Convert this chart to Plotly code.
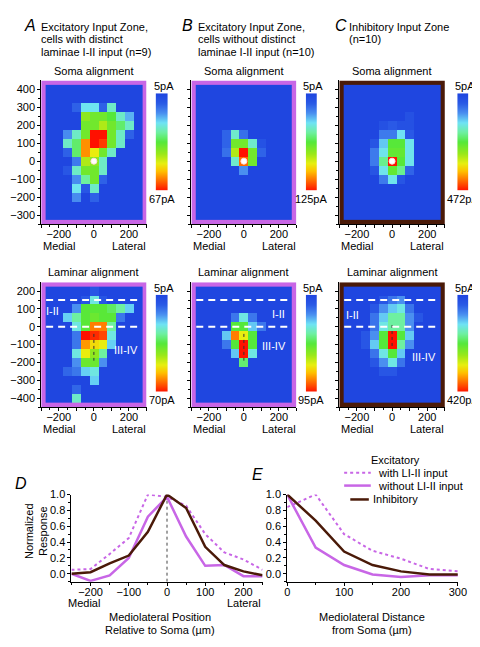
import plotly.graph_objects as go

W, H = 480, 647
FONT = "Liberation Sans, Arial, sans-serif"
VIOLET = "#c866e6"
BROWN = "#4a1a08"

# ---------------- data ----------------
hm_x = [-250, -200, -150, -100, -50, 0, 50, 100, 150, 200, 250]
soma_y = [400, 350, 300, 250, 200, 150, 100, 50, 0, -50, -100, -150, -200, -250, -300]
lam_y = [200, 150, 100, 50, 0, -50, -100, -150, -200, -250, -300, -350, -400]

somaA = [
    [5, 5, 5, 5, 5, 5, 5, 5, 5, 5, 5],
    [5, 5, 5, 5, 5, 5, 5, 5, 5, 5, 5],
    [5, 5, 5, 12, 24, 24, 12, 27, 5, 5, 5],
    [5, 5, 5, 5, 42, 39, 39, 36, 27, 20, 5],
    [5, 5, 5, 5, 39, 39, 45, 39, 33, 27, 5],
    [5, 5, 17, 27, 39, 67, 67, 39, 27, 12, 5],
    [5, 5, 27, 33, 58, 67, 64, 39, 27, 5, 5],
    [5, 5, 12, 33, 58, 50, 39, 27, 5, 5, 5],
    [5, 5, 5, 15, 45, 42, 27, 5, 5, 5, 5],
    [5, 5, 10, 27, 39, 39, 27, 5, 5, 5, 5],
    [5, 5, 5, 17, 30, 39, 12, 5, 5, 5, 5],
    [5, 5, 5, 24, 10, 27, 5, 5, 5, 5, 5],
    [5, 5, 5, 17, 5, 12, 5, 5, 5, 5, 5],
    [5, 5, 5, 5, 5, 5, 5, 5, 5, 5, 5],
    [5, 5, 5, 5, 5, 5, 5, 5, 5, 5, 5],
]
somaB = [
    [5, 5, 5, 5, 5, 5, 5, 5, 5, 5, 5],
    [5, 5, 5, 5, 5, 5, 5, 5, 5, 5, 5],
    [5, 5, 5, 5, 5, 5, 5, 5, 5, 5, 5],
    [5, 5, 5, 5, 5, 5, 5, 5, 5, 5, 5],
    [5, 5, 5, 5, 5, 5, 5, 5, 5, 5, 5],
    [5, 5, 5, 19, 47, 22, 5, 5, 5, 5, 5],
    [5, 5, 5, 19, 71, 71, 47, 12, 5, 5, 5],
    [5, 5, 5, 22, 83, 125, 71, 19, 5, 5, 5],
    [5, 5, 5, 5, 47, 113, 71, 5, 5, 5, 5],
    [5, 5, 5, 5, 5, 29, 5, 5, 5, 5, 5],
    [5, 5, 5, 5, 5, 5, 5, 5, 5, 5, 5],
    [5, 5, 5, 5, 5, 5, 5, 5, 5, 5, 5],
    [5, 5, 5, 5, 5, 5, 5, 5, 5, 5, 5],
    [5, 5, 5, 5, 5, 5, 5, 5, 5, 5, 5],
    [5, 5, 5, 5, 5, 5, 5, 5, 5, 5, 5],
]
somaC = [
    [5, 5, 5, 5, 5, 5, 5, 5, 5, 5, 5],
    [5, 5, 5, 5, 5, 5, 5, 5, 5, 5, 5],
    [5, 5, 5, 5, 5, 5, 5, 5, 5, 5, 5],
    [5, 5, 5, 5, 5, 5, 5, 30, 5, 5, 5],
    [5, 5, 5, 5, 30, 50, 30, 30, 5, 5, 5],
    [5, 5, 5, 5, 80, 80, 145, 50, 5, 5, 5],
    [5, 5, 5, 40, 130, 240, 240, 150, 5, 5, 5],
    [5, 5, 5, 80, 150, 250, 250, 150, 5, 5, 5],
    [5, 5, 5, 80, 200, 472, 240, 150, 5, 5, 5],
    [5, 5, 5, 40, 150, 250, 200, 60, 5, 5, 5],
    [5, 5, 5, 5, 80, 150, 40, 5, 5, 5, 5],
    [5, 5, 5, 5, 5, 5, 5, 5, 5, 5, 5],
    [5, 5, 5, 5, 5, 5, 5, 5, 5, 5, 5],
    [5, 5, 5, 5, 5, 5, 5, 5, 5, 5, 5],
    [5, 5, 5, 5, 5, 5, 5, 5, 5, 5, 5],
]
lamA = [
    [5, 5, 5, 5, 5, 10, 5, 5, 5, 5, 5],
    [5, 5, 5, 5, 10, 26, 10, 5, 5, 5, 5],
    [5, 5, 5, 18, 38, 38, 38, 35, 31, 23, 5],
    [5, 5, 23, 31, 38, 40, 38, 38, 15, 5, 5],
    [5, 5, 5, 26, 38, 62, 62, 31, 5, 5, 5],
    [5, 5, 5, 15, 70, 68, 66, 26, 5, 5, 5],
    [5, 5, 5, 15, 60, 54, 52, 23, 5, 5, 5],
    [5, 5, 5, 26, 52, 44, 31, 5, 5, 5, 5],
    [5, 5, 5, 18, 40, 40, 18, 5, 5, 5, 5],
    [5, 5, 13, 15, 23, 26, 5, 5, 5, 5, 5],
    [5, 5, 5, 5, 5, 23, 5, 5, 5, 5, 5],
    [5, 5, 5, 13, 5, 5, 5, 5, 5, 5, 5],
    [5, 5, 5, 28, 5, 5, 5, 5, 5, 5, 5],
]
lamB = [
    [5, 5, 5, 5, 5, 5, 5, 5, 5, 5, 5],
    [5, 5, 5, 5, 5, 5, 5, 5, 5, 5, 5],
    [5, 5, 5, 5, 5, 5, 5, 5, 5, 5, 5],
    [5, 5, 5, 5, 19, 34, 19, 5, 5, 5, 5],
    [5, 5, 5, 5, 50, 50, 29, 19, 5, 5, 5],
    [5, 5, 5, 29, 84, 70, 50, 5, 5, 5, 5],
    [5, 5, 5, 19, 50, 95, 50, 5, 5, 5, 5],
    [5, 5, 5, 5, 29, 95, 34, 5, 5, 5, 5],
    [5, 5, 5, 5, 5, 45, 5, 5, 5, 5, 5],
    [5, 5, 5, 5, 5, 5, 5, 5, 5, 5, 5],
    [5, 5, 5, 5, 5, 5, 5, 5, 5, 5, 5],
    [5, 5, 5, 5, 5, 5, 5, 5, 5, 5, 5],
    [5, 5, 5, 5, 5, 5, 5, 5, 5, 5, 5],
]
lamC = [
    [5, 5, 5, 5, 5, 5, 5, 5, 5, 5, 5],
    [5, 5, 5, 5, 38, 67, 88, 5, 5, 5, 5],
    [5, 5, 5, 38, 88, 117, 138, 67, 5, 5, 5],
    [5, 5, 5, 67, 117, 171, 171, 88, 38, 5, 5],
    [5, 5, 5, 67, 138, 171, 171, 88, 5, 5, 5],
    [5, 5, 38, 88, 212, 420, 212, 117, 5, 5, 5],
    [5, 5, 38, 117, 212, 420, 171, 88, 5, 5, 5],
    [5, 5, 5, 67, 138, 212, 117, 5, 5, 5, 5],
    [5, 5, 5, 38, 88, 138, 67, 5, 5, 5, 5],
    [5, 5, 5, 5, 38, 38, 5, 5, 5, 5, 5],
    [5, 5, 5, 5, 5, 5, 5, 5, 5, 5, 5],
    [5, 5, 5, 5, 5, 5, 5, 5, 5, 5, 5],
    [5, 5, 5, 5, 5, 5, 5, 5, 5, 5, 5],
]
cbar_min = 5
cbar_max = [67, 125, 472, 70, 95, 420]

soma_pos_x = [0]
soma_pos_y = [0]
lam_soma_x = [[0, 0], [0, 0], [0, 0]]
lam_soma_y = [[-40, -190], [-40, -190], [10, -110]]
lamina_bounds = [150, 0]

pos_D = [-250, -200, -150, -100, -50, 0, 50, 100, 150, 200, 250]
D_with = [0.05, 0.06, 0.25, 0.45, 1.0, 0.97, 0.86, 0.50, 0.27, 0.18, 0.05]
D_without = [0.0, -0.09, -0.02, 0.20, 0.72, 0.97, 0.47, 0.10, 0.11, -0.03, -0.03]
D_inhib = [0.0, 0.02, 0.13, 0.23, 0.53, 1.0, 0.83, 0.34, 0.11, 0.03, -0.02]

pos_E = [0, 50, 100, 150, 200, 250, 300]
E_with = [0.84, 1.0, 0.50, 0.29, 0.19, 0.06, 0.03]
E_without = [1.0, 0.33, 0.11, -0.01, -0.04, -0.02, -0.02]
E_inhib = [1.0, 0.67, 0.28, 0.11, 0.03, -0.01, -0.01]

# ---------------- styling ----------------
CSCALE = [
    [0.00, "#1f46e0"], [0.10, "#2a5ae6"], [0.20, "#4a8ff0"], [0.30, "#6fe3f5"],
    [0.40, "#6ef0a0"], [0.50, "#55e83a"], [0.62, "#9ae81a"], [0.72, "#e8ef10"],
    [0.80, "#ffc000"], [0.88, "#ff7a00"], [1.00, "#ff1000"],
]


def dx(a, b):
    return [a / W, b / W]


def dy(top, bottom):
    return [1 - bottom / H, 1 - top / H]


def py(v):
    return 1 - v / H


fig = go.Figure()
layout = dict(
    width=W, height=H, margin=dict(l=0, r=0, t=0, b=0),
    paper_bgcolor="white", plot_bgcolor="rgba(0,0,0,0)",
    font=dict(family=FONT, size=11, color="black"),
    showlegend=False,
)
annotations = []
shapes = []


def txt(t, x, y, xanchor="center", **kw):
    d = dict(text=t, xref="paper", yref="paper", x=x / W, y=py(y), showarrow=False,
             xanchor=xanchor, yanchor="middle")
    d.update(kw)
    annotations.append(d)


panel_x = [(31, 139), (185, 292.7), (336.7, 445)]
cbar_x = [(148.3, 161), (302.3, 314), (457.7, 469.3)]
row_y = [(67, 212), (270.7, 396.7)]
cbar_y = [(80, 178.3), (283.3, 381.3)]
medial_y = [234, 419.3]
grids = [somaA, somaB, somaC, lamA, lamB, lamC]
frame_cols = [VIOLET, VIOLET, BROWN]

ax = 0
for r in range(2):
    for c in range(3):
        i = r * 3 + c
        ax += 1
        xn = f"x{ax}"
        yn = f"y{ax}"
        yvals = soma_y if r == 0 else lam_y
        yr = [-350, 450] if r == 0 else [-450, 250]
        fig.add_trace(go.Heatmap(
            x=hm_x, y=yvals, z=grids[i], colorscale=CSCALE,
            zmin=cbar_min, zmax=cbar_max[i], showscale=False,
            xaxis=xn, yaxis=yn, hoverinfo="skip"))
        tickv = [-300, -200, -100, 0, 100, 200, 300]
        tickt = ["", "\u2212200", "", "0", "", "200", ""]
        layout[f"xaxis{ax}"] = dict(
            domain=dx(*panel_x[c]), range=[-300, 300], anchor=yn,
            tickvals=tickv, ticktext=tickt, ticks="outside", ticklen=3,
            tickcolor="black", showline=True, linecolor="black", linewidth=1,
            showgrid=False, zeroline=False, fixedrange=True, ticklabelstandoff=-3,
            minor=dict(tickvals=[-250, -150, -50, 50, 150, 250], ticks="outside", ticklen=2, tickcolor="black"),
            tickfont=dict(size=11))
        ytv = list(range(-300, 401, 100)) if r == 0 else list(range(-400, 201, 100))
        ytt = [("\u2212" + str(-v)) if v < 0 else str(v) for v in ytv]
        layout[f"yaxis{ax}"] = dict(
            domain=dy(*row_y[r]), range=yr, anchor=xn,
            tickvals=ytv, ticktext=ytt, showticklabels=(c == 0),
            ticks="outside", ticklen=3, tickcolor="black",
            showline=True, linecolor="black", linewidth=1,
            showgrid=False, zeroline=False, fixedrange=True,
            minor=dict(tickvals=[v + 50 for v in ytv[:-1]] + [ytv[0] - 50], ticks="outside", ticklen=2, tickcolor="black"),
            tickfont=dict(size=11))
        annotations.append(dict(text="Medial", xref=xn, yref="paper", x=-200, y=py(medial_y[r]),
                                showarrow=False, xanchor="center", yanchor="middle"))
        annotations.append(dict(text="Lateral", xref=xn, yref="paper", x=200, y=py(medial_y[r]),
                                showarrow=False, xanchor="center", yanchor="middle"))
        shapes.append(dict(type="rect", xref=xn, yref=yn, x0=-300, x1=300,
                           y0=yr[0], y1=yr[1], fillcolor=frame_cols[c],
                           line=dict(width=0), layer="below"))
        if r == 0:
            fig.add_trace(go.Scatter(
                x=soma_pos_x, y=soma_pos_y, mode="markers", xaxis=xn, yaxis=yn,
                marker=dict(color="white", size=6, line=dict(color="#ffdddd", width=1)),
                hoverinfo="skip"))
        else:
            for b in lamina_bounds:
                shapes.append(dict(type="line", xref=xn, yref=yn, x0=-272, x1=272,
                                   y0=b, y1=b, line=dict(color="white", width=2, dash="7px,5px")))
            fig.add_trace(go.Scatter(
                x=lam_soma_x[c], y=lam_soma_y[c], mode="lines", xaxis=xn, yaxis=yn,
                line=dict(color="#333333", width=1, dash="dot"), hoverinfo="skip"))

        # colour bar
        cax = 6 + ax
        cxn, cyn = f"x{cax}", f"y{cax}"
        fig.add_trace(go.Heatmap(
            x=[0, 1], y=[cbar_min, cbar_max[i]],
            z=[[cbar_min, cbar_min], [cbar_max[i], cbar_max[i]]],
            zsmooth="best", colorscale=CSCALE, zmin=cbar_min, zmax=cbar_max[i],
            showscale=False, xaxis=cxn, yaxis=cyn, hoverinfo="skip"))
        layout[f"xaxis{cax}"] = dict(domain=dx(*cbar_x[c]), range=[0, 1], anchor=cyn,
                                     visible=False, fixedrange=True)
        layout[f"yaxis{cax}"] = dict(domain=dy(*cbar_y[r]), range=[cbar_max[i], cbar_min],
                                     anchor=cxn, visible=False, fixedrange=True)
        cxc = (cbar_x[c][0] + cbar_x[c][1]) / 2
        txt(f"{cbar_min}pA", cxc + 2, cbar_y[r][0] - 7)
        txt(f"{cbar_max[i]}pA", cxc, cbar_y[r][1] + 8.5)

# panel sub-titles
for c in range(3):
    xc = (panel_x[c][0] + panel_x[c][1]) / 2
    txt("Soma alignment", xc, 57.5)
    txt("Laminar alignment", xc, 260.5)

# lamina labels
lam_lbl = [((-233, 87), (183, -131)), ((198, 69), (174, -107)), ((-224, 65), (180, -172))]
for c in range(3):
    axn = 4 + c
    (x1, y1), (x2, y2) = lam_lbl[c]
    annotations.append(dict(text="I-II", xref=f"x{axn}", yref=f"y{axn}", x=x1, y=y1,
                            showarrow=False, font=dict(color="white", size=11)))
    annotations.append(dict(text="III-IV", xref=f"x{axn}", yref=f"y{axn}", x=x2, y=y2,
                            showarrow=False, font=dict(color="white", size=11)))

# headers
headers = [
    ("A", 11, 29, ["Excitatory Input Zone,", "cells with distinct", "laminae I-II input (n=9)"]),
    ("B", 173, 189.5, ["Excitatory Input Zone,", "cells without distinct", "laminae I-II input (n=10)"]),
    ("C", 330, 345, ["Inhibitory Input Zone", "(n=10)"]),
]
for letter, lx, tx, lines in headers:
    txt(f"<i>{letter}</i>", lx, 12, xanchor="left", font=dict(size=16))
    for k, t in enumerate(lines):
        txt(t, tx, 12.7 + 12.8 * k, xanchor="left")

# ---------------- line charts ----------------
line_specs = [
    ("with", dict(color=VIOLET, width=2, dash="dot")),
    ("without", dict(color=VIOLET, width=2.5)),
    ("inhib", dict(color=BROWN, width=2.5)),
]
D_series = {"with": D_with, "without": D_without, "inhib": D_inhib}
E_series = {"with": E_with, "without": E_without, "inhib": E_inhib}
for key, ls in line_specs:
    fig.add_trace(go.Scatter(x=pos_D, y=D_series[key], mode="lines", line=ls,
                             xaxis="x13", yaxis="y13", cliponaxis=False, hoverinfo="skip"))
    fig.add_trace(go.Scatter(x=pos_E, y=E_series[key], mode="lines", line=ls,
                             xaxis="x14", yaxis="y14", cliponaxis=False, hoverinfo="skip"))

LY_TOP, LY_BOT = 485, 573
ytv = [0, 0.2, 0.4, 0.6, 0.8, 1.0]
yaxis_common = dict(range=[-0.1, 1.0], tickvals=ytv, ticktext=[f"{v:.1f}" for v in ytv],
                    ticks="outside", ticklen=3, tickcolor="black", showline=True,
                    linecolor="black", linewidth=1, showgrid=False, zeroline=False,
                    fixedrange=True, domain=dy(LY_TOP, LY_BOT),
                    minor=dict(tickvals=[-0.1, 0.1, 0.3, 0.5, 0.7, 0.9], ticks="outside", ticklen=2, tickcolor="black"))
layout["xaxis13"] = dict(domain=dx(62, 258), range=[-250, 250], anchor="y13",
                         tickvals=[-200, -100, 0, 100, 200],
                         ticktext=["\u2212200", "\u2212100", "0", "100", "200"],
                         ticks="outside", ticklen=3, tickcolor="black", showline=True,
                         linecolor="black", linewidth=1, showgrid=False, zeroline=False,
                         fixedrange=True, ticklabelstandoff=-3,
                         minor=dict(tickvals=[-250, -150, -50, 50, 150, 250], ticks="outside", ticklen=2, tickcolor="black"))
layout["yaxis13"] = dict(anchor="x13", **yaxis_common)
layout["xaxis14"] = dict(domain=dx(283.3, 458.3), range=[0, 300], anchor="y14",
                         tickvals=[0, 100, 200, 300], ticks="outside", ticklen=3,
                         tickcolor="black", showline=True, linecolor="black", linewidth=1,
                         showgrid=False, zeroline=False, fixedrange=True, ticklabelstandoff=-3,
                         minor=dict(tickvals=[50, 150, 250], ticks="outside", ticklen=2, tickcolor="black"))
layout["yaxis14"] = dict(anchor="x14", **yaxis_common)

shapes.append(dict(type="line", xref="x13", yref="y13", x0=0, x1=0, y0=-0.1, y1=1.0,
                   line=dict(color="#444444", width=1, dash="dot"), layer="below"))

txt("<i>D</i>", 10, 474, font=dict(size=16))
txt("<i>E</i>", 253.3, 465, font=dict(size=16))
txt("Normalized<br>Response", 25.5, 522, textangle=-90)
txt("Medial", 75, 594.5)
txt("Lateral", 239, 594.5)
txt("Mediolateral Position", 153.3, 609)
txt("Relative to Soma (\u00b5m)", 153.3, 622)
txt("Mediolateral Distance", 370, 609)
txt("from Soma (\u00b5m)", 370, 622)
txt("Excitatory", 394, 450)
txt("with LI-II input", 374, 463, xanchor="left")
txt("without LI-II input", 374, 476, xanchor="left")
txt("Inhibitory", 369, 490, xanchor="left")

# legend samples
leg_samples = [(341.7, 369, 463, line_specs[0][1]), (341.7, 369, 476, line_specs[1][1]),
               (348, 367, 490, line_specs[2][1])]
for x0, x1, yy, ls in leg_samples:
    shapes.append(dict(type="line", xref="paper", yref="paper", x0=x0 / W, x1=x1 / W,
                       y0=py(yy), y1=py(yy), line=ls))

layout["annotations"] = annotations
layout["shapes"] = shapes
fig.update_layout(**layout)
fig.write_html("out.html")
